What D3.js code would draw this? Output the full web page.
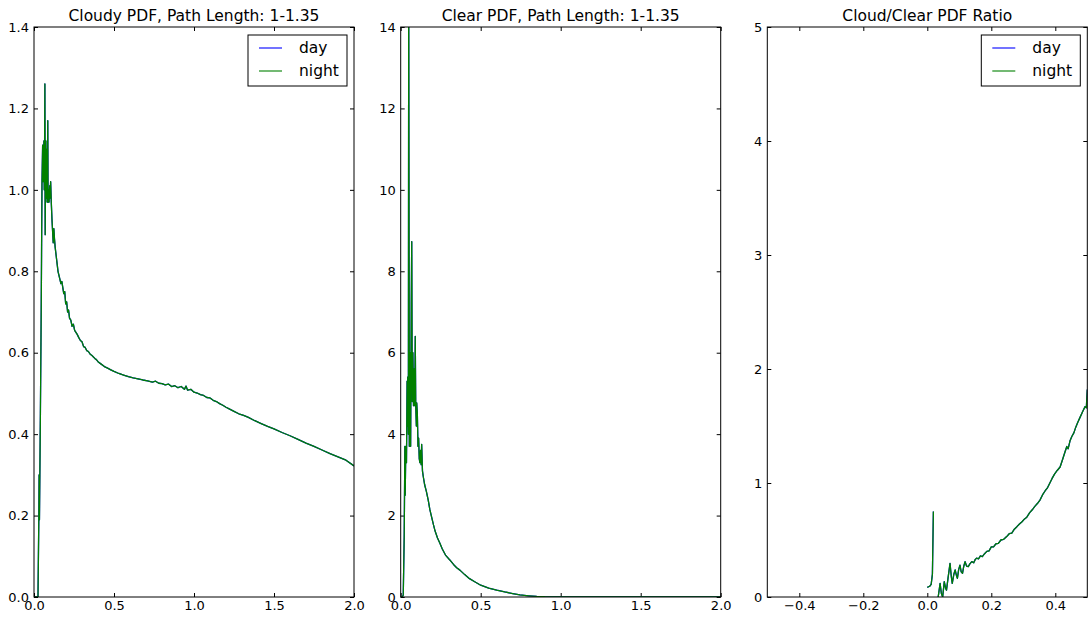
<!DOCTYPE html>
<html>
<head>
<meta charset="utf-8">
<script src="https://cdn.jsdelivr.net/npm/d3@7"></script>
<style>
  body { margin: 0; background: #fff; }
  svg { display: block; font-family: "DejaVu Sans", sans-serif; }
</style>
</head>
<body>
<svg id="chart" width="1088" height="618"></svg>
<script>
// ---- data ----
const seriesNames = ['day', 'night'];
const seriesColors = ['#0000ff', '#008000'];

const cloudyX = [0, 0.02, 0.025, 0.03, 0.032, 0.034, 0.04, 0.045, 0.05, 0.054, 0.056, 0.058, 0.06, 0.062, 0.064, 0.066,
  0.068, 0.07, 0.072, 0.074, 0.076, 0.078, 0.08, 0.082, 0.084, 0.086, 0.088, 0.09, 0.094, 0.098, 0.1, 0.104, 0.108,
  0.112, 0.116, 0.12, 0.124, 0.128, 0.132, 0.138, 0.144, 0.15, 0.156, 0.162, 0.168, 0.174, 0.18, 0.186, 0.192, 0.198,
  0.204, 0.21, 0.216, 0.222, 0.23, 0.238, 0.246, 0.254, 0.262, 0.27, 0.28, 0.29, 0.3, 0.31, 0.32, 0.33, 0.34, 0.35,
  0.36, 0.37, 0.38, 0.39, 0.4, 0.42, 0.44, 0.46, 0.48, 0.5, 0.53, 0.56, 0.59, 0.62, 0.65, 0.68, 0.71, 0.74, 0.76,
  0.78, 0.8, 0.82, 0.84, 0.86, 0.88, 0.9, 0.92, 0.94, 0.95, 0.96, 0.98, 1.0, 1.02, 1.04, 1.06, 1.08, 1.1, 1.12, 1.14,
  1.16, 1.18, 1.2, 1.22, 1.25, 1.28, 1.31, 1.34, 1.38, 1.42, 1.46, 1.5, 1.55, 1.6, 1.65, 1.7, 1.75, 1.8, 1.85, 1.9,
  1.95, 2.0];
const cloudyNight = [0, 0, 0, 0.19, 0.3, 0.19, 0.45, 0.7, 1.02, 1.11, 1.02, 1.1, 1.05, 1.12, 1.0, 1.08,
  1.26, 0.89, 1.05, 1.12, 0.98, 1.1, 1.03, 0.97, 1.05, 1.17, 0.97, 1.0, 0.97, 1.01, 0.98, 1.02, 0.97,
  0.93, 0.9, 0.87, 0.905, 0.88, 0.86, 0.84, 0.82, 0.8, 0.79, 0.78, 0.77, 0.775, 0.76, 0.745, 0.75, 0.72,
  0.725, 0.7, 0.705, 0.685, 0.68, 0.665, 0.67, 0.655, 0.65, 0.645, 0.637, 0.63, 0.627, 0.615, 0.613, 0.605, 0.603, 0.597,
  0.594, 0.59, 0.586, 0.583, 0.578, 0.572, 0.566, 0.562, 0.558, 0.554, 0.549, 0.545, 0.541, 0.538, 0.536, 0.533, 0.531, 0.528, 0.53,
  0.525, 0.524, 0.521, 0.523, 0.517, 0.519, 0.514, 0.517, 0.51, 0.518, 0.508, 0.51, 0.503, 0.501, 0.497, 0.495, 0.49, 0.489, 0.483, 0.48,
  0.475, 0.471, 0.466, 0.462, 0.456, 0.45, 0.446, 0.441, 0.433, 0.426, 0.419, 0.413, 0.404, 0.396, 0.387, 0.378, 0.37, 0.361, 0.352, 0.344,
  0.336, 0.322];
const cloudyDay = cloudyNight;

const clearX = [0, 0.01, 0.016, 0.022, 0.026, 0.028, 0.032, 0.036, 0.04, 0.042, 0.044, 0.048, 0.05, 0.054, 0.058,
  0.062, 0.066, 0.069, 0.072, 0.076, 0.08, 0.084, 0.088, 0.091, 0.094, 0.098, 0.1, 0.104, 0.108, 0.112, 0.116, 0.12,
  0.124, 0.128, 0.131, 0.136, 0.141, 0.15, 0.16, 0.172, 0.182, 0.193, 0.205, 0.215, 0.23, 0.245, 0.26, 0.28, 0.307,
  0.33, 0.35, 0.37, 0.4, 0.43, 0.46, 0.5, 0.55, 0.6, 0.65, 0.7, 0.745, 0.8, 0.85, 0.9, 1.0, 1.2, 1.5, 2.0];
const clearNight = [0, 0, 0.05, 1.5, 3.7, 2.5, 3.7, 3.3, 5.3, 4.2, 5.4, 4.0, 14.8, 3.7, 6.0,
  3.7, 7.2, 8.73, 4.8, 6.0, 4.7, 5.6, 4.7, 6.4, 4.7, 4.2, 4.77, 4.5, 3.7, 3.9, 3.4, 3.3,
  3.6, 3.25, 3.75, 3.1, 2.96, 2.75, 2.6, 2.38, 2.15, 1.97, 1.77, 1.62, 1.45, 1.32, 1.18, 1.03, 0.91,
  0.8, 0.72, 0.66, 0.55, 0.45, 0.38, 0.29, 0.22, 0.17, 0.125, 0.085, 0.05, 0.03, 0.015, 0.008, 0.004, 0.001, 0, 0];
const clearDay = clearNight;

const ratioX = [0, 0.004, 0.008, 0.012, 0.016, 0.019, 0.025, 0.031, 0.034, 0.04, 0.044, 0.048, 0.053, 0.057, 0.06,
  0.065, 0.071, 0.075, 0.078, 0.083, 0.087, 0.091, 0.094, 0.098, 0.102, 0.106, 0.11, 0.114, 0.118, 0.123, 0.128,
  0.133, 0.139, 0.145, 0.15, 0.154, 0.16, 0.166, 0.172, 0.179, 0.186, 0.193, 0.2, 0.207, 0.214, 0.222, 0.23, 0.238,
  0.248, 0.256, 0.264, 0.272, 0.28, 0.288, 0.296, 0.304, 0.311, 0.32, 0.328, 0.336, 0.344, 0.352, 0.36, 0.368, 0.376,
  0.383, 0.39, 0.398, 0.406, 0.415, 0.422, 0.43, 0.436, 0.44, 0.446, 0.452, 0.458, 0.464, 0.47, 0.478, 0.486, 0.493,
  0.497, 0.5];
const ratioNight = [0.085, 0.09, 0.095, 0.11, 0.2, 0.75, null, -0.05, 0.0, 0.12, 0.03, 0.0, 0.135, 0.08, 0.06,
  0.17, 0.295, 0.18, 0.12, 0.2, 0.237, 0.19, 0.164, 0.24, 0.28, 0.22, 0.208, 0.27, 0.31, 0.27, 0.266,
  0.29, 0.31, 0.3, 0.33, 0.34, 0.335, 0.36, 0.355, 0.38, 0.4, 0.405, 0.44, 0.44, 0.465, 0.47, 0.5, 0.505,
  0.53, 0.555, 0.56, 0.595, 0.617, 0.64, 0.66, 0.685, 0.7, 0.74, 0.765, 0.795, 0.82, 0.85, 0.895, 0.93, 0.96,
  1.0, 1.04, 1.08, 1.11, 1.14, 1.2, 1.27, 1.32, 1.3, 1.37, 1.41, 1.44, 1.49, 1.53, 1.58, 1.63, 1.67,
  1.66, 1.82];
const ratioDay = ratioNight;

const pdfXTicks = [0, 0.5, 1.0, 1.5, 2.0];
const ratioXTicks = [-0.4, -0.2, 0, 0.2, 0.4];
const cloudyYTicks = [0, 0.2, 0.4, 0.6, 0.8, 1.0, 1.2, 1.4];
const clearYTicks = [0, 2, 4, 6, 8, 10, 12, 14];
const ratioYTicks = [0, 1, 2, 3, 4, 5];

// ---- layout ----
const svg = d3.select('#chart');
const plotTop = 27, plotH = 570, plotW = 320;

const panels = [
  { left: 34, title: 'Cloudy PDF, Path Length: 1-1.35', xDomain: [0, 2], yDomain: [0, 1.4],
    x: cloudyX, ys: [cloudyDay, cloudyNight], xTicks: pdfXTicks, yTicks: cloudyYTicks,
    xFmt: d3.format('.1f'), yFmt: d3.format('.1f'), legend: true },
  { left: 400.7, title: 'Clear PDF, Path Length: 1-1.35', xDomain: [0, 2], yDomain: [0, 14],
    x: clearX, ys: [clearDay, clearNight], xTicks: pdfXTicks, yTicks: clearYTicks,
    xFmt: d3.format('.1f'), yFmt: d3.format('d'), legend: false },
  { left: 767.3, title: 'Cloud/Clear PDF Ratio', xDomain: [-0.5, 0.5], yDomain: [0, 5],
    x: ratioX, ys: [ratioDay, ratioNight], xTicks: ratioXTicks, yTicks: ratioYTicks,
    xFmt: d => d3.format('.1f')(d).replace('-', '\u2212'), yFmt: d3.format('d'), legend: true }
];

function styleAxis(g) {
  g.select('.domain').remove();
  g.selectAll('.tick line').attr('stroke', '#000').attr('stroke-width', 1);
  g.selectAll('.tick text').attr('fill', '#000').style('font-size', '13px')
    .style('font-family', '"DejaVu Sans", sans-serif');
}

panels.forEach((p, pi) => {
  const xScale = d3.scaleLinear().domain(p.xDomain).range([0, plotW]);
  const yScale = d3.scaleLinear().domain(p.yDomain).range([plotH, 0]);

  const g = svg.append('g').attr('transform', `translate(${p.left},${plotTop})`);

  svg.append('defs').append('clipPath').attr('id', `clip-${pi}`)
    .append('rect').attr('width', plotW).attr('height', plotH);

  // inward ticks on all four sides
  g.append('g').attr('transform', `translate(0,${plotH})`)
    .call(d3.axisBottom(xScale).tickValues(p.xTicks).tickFormat(p.xFmt).tickSize(-4).tickPadding(4))
    .call(styleAxis);
  g.append('g')
    .call(d3.axisTop(xScale).tickValues(p.xTicks).tickFormat('').tickSize(-4))
    .call(styleAxis);
  g.append('g')
    .call(d3.axisLeft(yScale).tickValues(p.yTicks).tickFormat(p.yFmt).tickSize(-4).tickPadding(5))
    .call(styleAxis);
  g.append('g').attr('transform', `translate(${plotW},0)`)
    .call(d3.axisRight(yScale).tickValues(p.yTicks).tickFormat('').tickSize(-4))
    .call(styleAxis);

  const line = d3.line()
    .defined(d => d[1] !== null)
    .x(d => xScale(d[0]))
    .y(d => yScale(d[1]));

  const lines = g.append('g').attr('clip-path', `url(#clip-${pi})`);
  p.ys.forEach((ys, si) => {
    lines.append('path')
      .datum(p.x.map((xv, i) => [xv, ys[i]]))
      .attr('fill', 'none')
      .attr('stroke', seriesColors[si])
      .attr('stroke-width', 1.3)
      .attr('stroke-linejoin', 'round')
      .attr('d', line);
  });

  // spines
  g.append('rect')
    .attr('width', plotW).attr('height', plotH)
    .attr('fill', 'none').attr('stroke', '#000').attr('stroke-width', 1);

  g.append('text')
    .attr('x', plotW / 2).attr('y', -6)
    .attr('text-anchor', 'middle')
    .style('font-size', '15.5px')
    .text(p.title);

  if (p.legend) {
    const lg = g.append('g').attr('transform', `translate(${plotW - 106},8)`);
    lg.append('rect')
      .attr('width', 99).attr('height', 51)
      .attr('fill', '#fff').attr('stroke', '#000').attr('stroke-width', 1);
    seriesNames.forEach((name, i) => {
      const yy = 13 + i * 23;
      lg.append('line')
        .attr('x1', 11).attr('x2', 34).attr('y1', yy).attr('y2', yy)
        .attr('stroke', seriesColors[i]).attr('stroke-width', 1.1);
      lg.append('text')
        .attr('x', 51).attr('y', yy + 5)
        .style('font-size', '15.5px')
        .text(name);
    });
  }
});
</script>
</body>
</html>
